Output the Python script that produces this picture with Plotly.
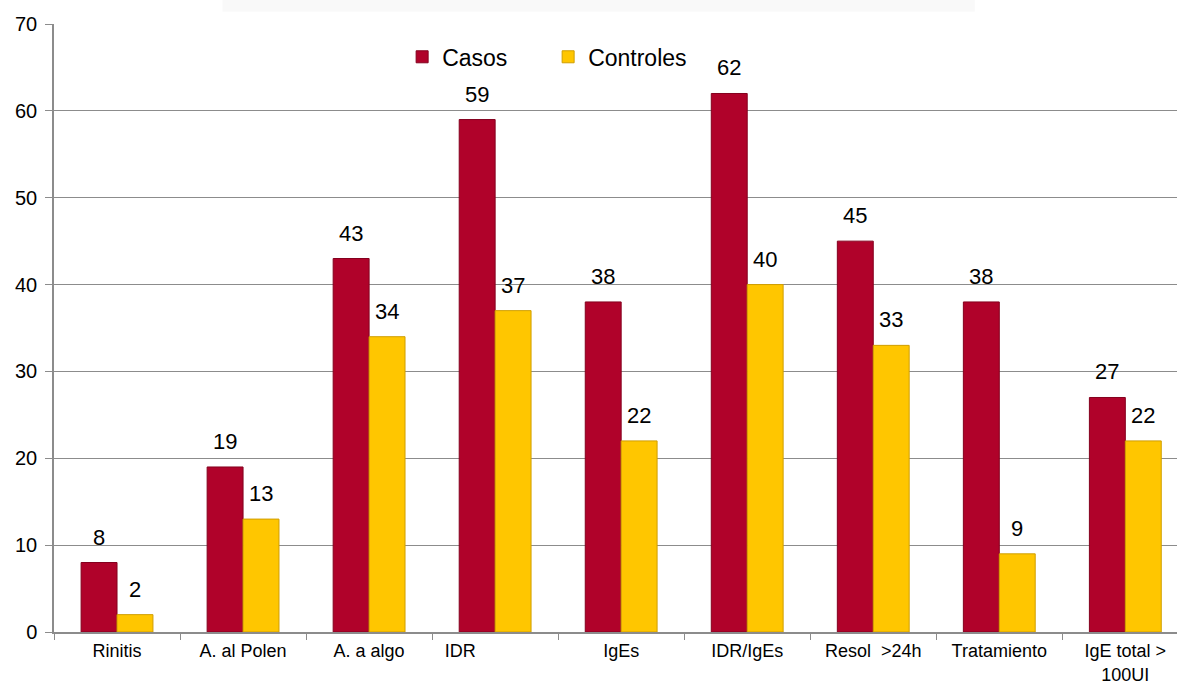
import plotly.graph_objects as go

categories = ["Rinitis", "A. al Polen", "A. a algo", "IDR\u00a0\u00a0\u00a0\u00a0\u00a0\u00a0\u00a0\u00a0\u00a0\u00a0\u00a0\u00a0\u00a0\u00a0",
              "IgEs", "IDR/IgEs", "Resol\u00a0\u00a0>24h", "Tratamiento", "IgE total ><br>100UI"]
casos = [8, 19, 43, 59, 38, 62, 45, 38, 27]
controles = [2, 13, 34, 37, 22, 40, 33, 9, 22]
y_ticks = [0, 10, 20, 30, 40, 50, 60, 70]

RED = "#B0022A"
YELLOW = "#FFC600"
GRID = "#8C8C8C"
FONT = "Liberation Sans, Arial"

X_RANGE = [-0.5, 8.41]
BARGAP = 0.43
PLOT_W = 1177 - 54
# half the width of one bar, in pixels, used to centre value labels on each bar
cat_px = PLOT_W / (X_RANGE[1] - X_RANGE[0])
half_bar = cat_px * (1 - BARGAP) / 4

fig = go.Figure()
fig.add_trace(go.Bar(
    name="Casos", x=categories, y=casos,
    marker=dict(color=RED, line=dict(color="#84001E", width=1)),
))
fig.add_trace(go.Bar(
    name="Controles", x=categories, y=controles,
    marker=dict(color=YELLOW, line=dict(color="#D09E00", width=1)),
))

# value labels above every bar
annotations = []
for series, shift in ((casos, -half_bar), (controles, half_bar)):
    for cat, v in zip(categories, series):
        annotations.append(dict(
            x=cat, y=v, xref="x", yref="y", text=str(v), showarrow=False,
            xshift=shift, yshift=11, yanchor="bottom",
            font=dict(size=22, color="black", family=FONT),
        ))

fig.update_layout(
    width=1177, height=684,
    margin=dict(l=54, r=0, t=24, b=52),
    paper_bgcolor="white", plot_bgcolor="white",
    barmode="group", bargap=BARGAP, bargroupgap=0,
    font=dict(family=FONT, color="black"),
    showlegend=True,
    legend=dict(orientation="h", x=0.31, y=0.946, xanchor="left", yanchor="middle",
                font=dict(size=23), entrywidth=101, itemwidth=30,
                bgcolor="rgba(0,0,0,0)"),
    annotations=annotations,
    shapes=[dict(type="rect", xref="paper", yref="paper", x0=0.15, x1=0.82,
                 y0=1.02, y1=1.04, line=dict(width=0),
                 fillcolor="rgba(0,0,0,0.025)", layer="below")],
)
fig.update_xaxes(
    range=X_RANGE, tickson="boundaries", ticks="outside", ticklen=6,
    tickcolor=GRID, showline=True, linecolor=GRID, linewidth=1.5,
    tickfont=dict(size=18), showgrid=False, ticklabelstandoff=2,
    automargin=False,
)
fig.update_yaxes(
    range=[0, 70], tickvals=y_ticks, ticks="outside", ticklen=7, tickcolor=GRID,
    showline=True, linecolor=GRID, linewidth=1.5, gridcolor=GRID, gridwidth=1.2,
    tickfont=dict(size=20), zeroline=False, ticklabelstandoff=4,
    automargin=False,
)

fig.write_html("out.html")
